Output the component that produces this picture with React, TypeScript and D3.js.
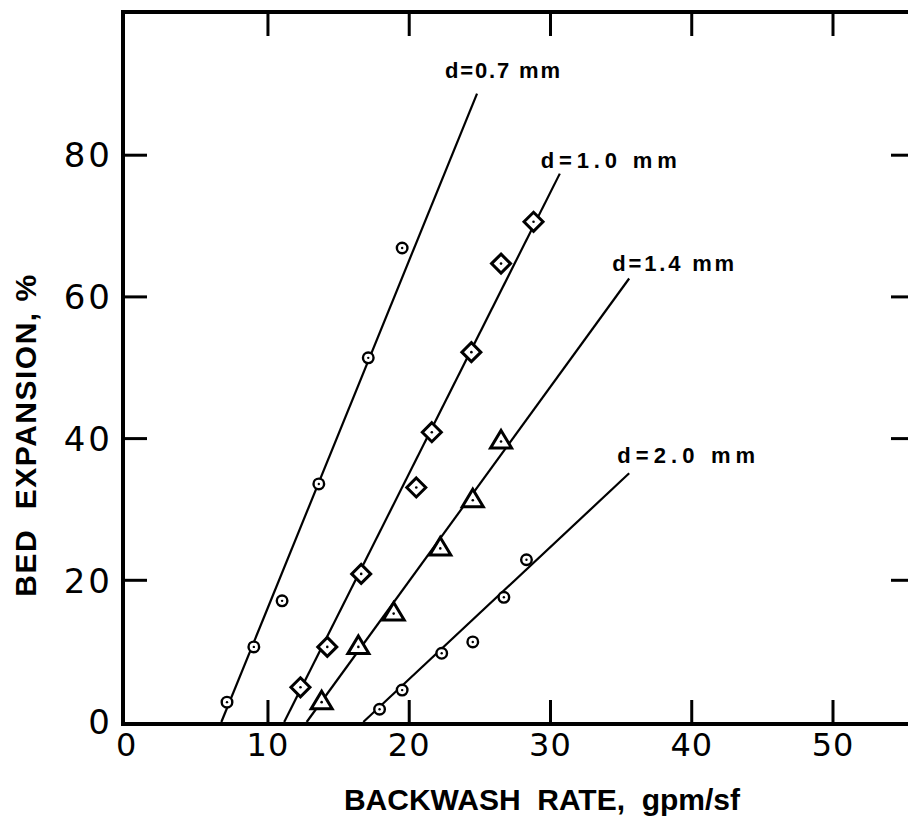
import React from 'react';
import * as d3 from 'd3';

const rate07 = [7.1, 9.0, 11.0, 13.6, 17.1, 19.5];
const exp07 = [2.8, 10.6, 17.1, 33.6, 51.4, 66.9];
const rate10 = [12.3, 14.2, 16.6, 20.5, 21.6, 24.4, 26.5, 28.8];
const exp10 = [4.9, 10.6, 20.9, 33.1, 40.9, 52.2, 64.7, 70.6];
const rate14 = [13.8, 16.4, 18.9, 22.2, 24.5, 26.5];
const exp14 = [2.8, 10.6, 15.3, 24.5, 31.3, 39.6];
const rate20 = [17.9, 19.5, 22.3, 24.5, 26.7, 28.3];
const exp20 = [1.8, 4.5, 9.7, 11.3, 17.6, 22.9];

// fitted lines: [rate, expansion] at both ends
const fit07 = [[6.7, 0], [24.8, 88.7]];
const fit10 = [[11.15, 0], [30.66, 77.4]];
const fit14 = [[12.74, 0], [35.57, 62.6]];
const fit20 = [[16.75, 0], [35.57, 35.1]];

const seriesLabels = ['d=0.7 mm', 'd=1.0 mm', 'd=1.4 mm', 'd=2.0 mm'];
const xTicks = [0, 10, 20, 30, 40, 50];
const yTicks = [0, 20, 40, 60, 80];

const W = 908;
const H = 835;

const x = d3.scaleLinear().domain([0, 50]).range([126.7, 833]);
const y = d3.scaleLinear().domain([0, 100]).range([722, 13.5]);

const frame = { left: 123, right: 915, top: 12, bottom: 724 };
const tickLen = 24;

const lineGen = d3
  .line<number[]>()
  .x((d) => x(d[0]))
  .y((d) => y(d[1]));

const Circle = () => (
  <g>
    <circle r={5.3} fill="white" stroke="black" strokeWidth={2.4} />
    <circle r={1.2} fill="black" />
  </g>
);

const Diamond = () => (
  <g>
    <path d="M0,-9.5L9.5,0L0,9.5L-9.5,0Z" fill="white" stroke="black" strokeWidth={3} />
    <circle r={1.3} fill="black" />
  </g>
);

const Triangle = () => (
  <g>
    <path d="M0,-11L10.5,6.5L-10.5,6.5Z" fill="white" stroke="black" strokeWidth={3} />
    <circle r={1.3} fill="black" />
  </g>
);

// label placement relative to the upper end of each fitted line
const series = [
  { xs: rate07, ys: exp07, fit: fit07, Marker: Circle, label: seriesLabels[0], dx: -32, dy: -16, len: 115 },
  { xs: rate10, ys: exp10, fit: fit10, Marker: Diamond, label: seriesLabels[1], dx: -19, dy: -6, len: 136 },
  { xs: rate14, ys: exp14, fit: fit14, Marker: Triangle, label: seriesLabels[2], dx: -17, dy: -7, len: 122 },
  { xs: rate20, ys: exp20, fit: fit20, Marker: Circle, label: seriesLabels[3], dx: -12, dy: -10, len: 138 },
];

const App = () => {
  return (
    <svg
      width={W}
      height={H}
      style={{ position: 'absolute', left: 0, top: 0, background: 'white' }}
    >
      <rect width={W} height={H} fill="white" />

      {/* fitted lines */}
      {series.map((s, i) => (
        <path key={'fit' + i} d={lineGen(s.fit) || ''} fill="none" stroke="black" strokeWidth={2.2} />
      ))}

      {/* points */}
      {series.map((s, i) =>
        s.xs.map((v, j) => (
          <g key={`p${i}-${j}`} transform={`translate(${x(v)},${y(s.ys[j])})`}>
            <s.Marker />
          </g>
        )),
      )}

      {/* series labels */}
      {series.map((s, i) => {
        const end = s.fit[1];
        return (
          <text
            key={'lab' + i}
            x={x(end[0]) + s.dx}
            y={y(end[1]) + s.dy}
            fontFamily="Liberation Sans, Arial, sans-serif"
            fontWeight="bold"
            fontSize={22}
            textLength={s.len}
            lengthAdjust="spacing"
          >
            {s.label}
          </text>
        );
      })}

      {/* frame */}
      <path
        d={`M${frame.right},${frame.top}H${frame.left}V${frame.bottom}H${frame.right}`}
        fill="none"
        stroke="black"
        strokeWidth={4}
      />

      {/* x ticks, bottom and top */}
      {xTicks.filter((t) => t > 0).map((t) => (
        <g key={'xt' + t}>
          <line x1={x(t)} x2={x(t)} y1={frame.bottom} y2={frame.bottom - tickLen} stroke="black" strokeWidth={3} />
          <line x1={x(t)} x2={x(t)} y1={frame.top} y2={frame.top + tickLen} stroke="black" strokeWidth={3} />
        </g>
      ))}
      {xTicks.map((t) => (
        <text
          key={'xl' + t}
          x={x(t)}
          y={756}
          textAnchor="middle"
          fontFamily="DejaVu Sans, sans-serif"
          fontSize={32}
          letterSpacing={1}
        >
          {t}
        </text>
      ))}

      {/* y ticks, left and right */}
      {yTicks.filter((t) => t > 0).map((t) => (
        <g key={'yt' + t}>
          <line x1={frame.left} x2={frame.left + tickLen} y1={y(t)} y2={y(t)} stroke="black" strokeWidth={3} />
          <line x1={frame.right} x2={frame.right - tickLen} y1={y(t)} y2={y(t)} stroke="black" strokeWidth={3} />
        </g>
      ))}
      {yTicks.map((t) => (
        <text
          key={'yl' + t}
          x={frame.left - 10}
          y={y(t)}
          dy="0.36em"
          textAnchor="end"
          fontFamily="DejaVu Sans, sans-serif"
          fontSize={34}
          letterSpacing={3}
        >
          {t}
        </text>
      ))}

      {/* axis titles */}
      <text
        x={542}
        y={810}
        textAnchor="middle"
        fontFamily="Liberation Sans, Arial, sans-serif"
        fontWeight="bold"
        fontSize={30}
        style={{ whiteSpace: 'pre' }}
      >
        {'BACKWASH  RATE,  gpm/sf'}
      </text>
      <text
        transform="translate(36,435) rotate(-90)"
        textAnchor="middle"
        fontFamily="Liberation Sans, Arial, sans-serif"
        fontWeight="bold"
        fontSize={30}
        letterSpacing={1.5}
        style={{ whiteSpace: 'pre' }}
      >
        {'BED  EXPANSION, %'}
      </text>
    </svg>
  );
};

export default App;
